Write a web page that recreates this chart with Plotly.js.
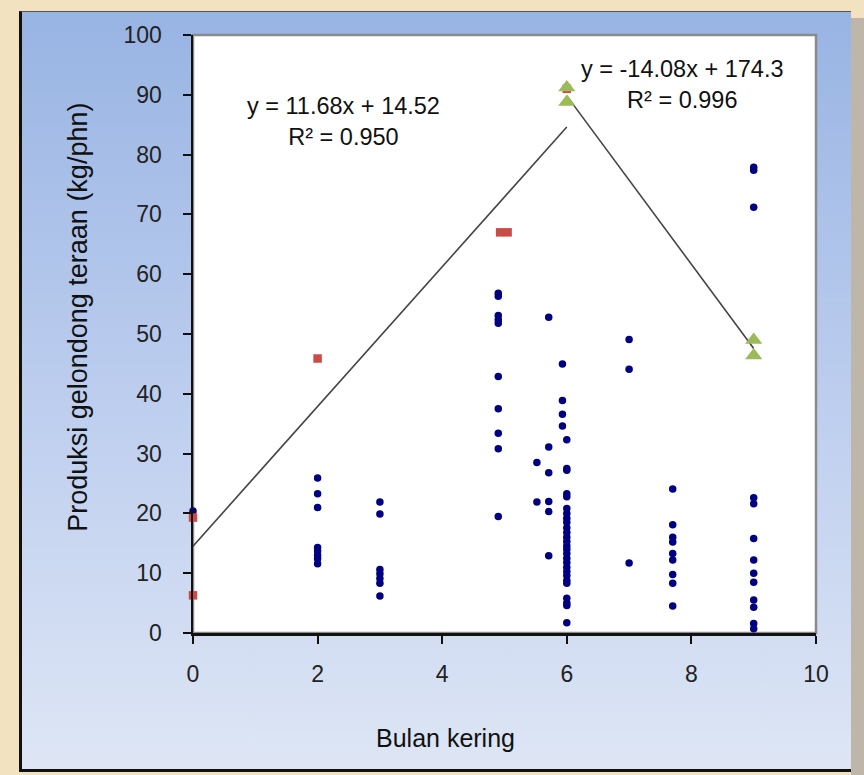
<!DOCTYPE html>
<html>
<head>
<meta charset="utf-8">
<script src="https://cdn.plot.ly/plotly-3.0.1.min.js"></script>
<style>
  html, body { margin: 0; padding: 0; width: 864px; height: 775px; overflow: hidden; background: #F2E2C0; }
  #panel { position: absolute; left: 19px; top: 11px; width: 829px; height: 757px;
           background: linear-gradient(to bottom, #98B4E3 0%, #BCCDEE 50%, #DEE6F5 100%);
           border-top: 1px solid #555; border-left: 3px solid #111; border-bottom: 3px solid #111; }
  #shadow { position: absolute; left: 851px; top: 18px; width: 13px; height: 757px; background: #BEB6A8; }
  #chart { position: absolute; left: 0; top: 0; width: 864px; height: 775px; }
</style>
</head>
<body>
<div id="panel"></div>
<div id="shadow"></div>
<div id="chart"></div>
<script>
// Blue dots (all observations)
const blueX = [0,
  2,2,2,2,2,2,2,2,
  3,3,3,3,3,3,3,
  4.9,4.9,4.9,4.9,4.9,4.9,4.9,4.9,4.9,4.9,
  5.52,5.52,
  5.71,5.71,5.71,5.71,5.71,5.71,
  5.93,5.93,5.93,5.93,
  6,6,6,6,6,6,6,6,6,6,6,6,6,6,6,6,6,6,6,6,6,6,6,6,6,6,6,
  7,7,7,
  7.7,7.7,7.7,7.7,7.7,7.7,7.7,7.7,7.7,
  9,9,9,9,9,9,9,9,9,9,9,9,9];
const blueY = [20.4,
  25.9,23.3,21.0,14.3,13.7,13.0,12.4,11.6,
  21.9,19.9,10.6,9.9,9.1,8.3,6.2,
  56.8,56.3,53.1,52.4,51.8,42.9,37.5,33.4,30.8,19.5,
  28.5,21.9,
  52.8,31.1,26.8,22.0,20.3,12.9,
  45.0,38.9,36.6,34.6,
  32.3,27.5,27.2,23.3,22.8,20.8,20.0,19.2,18.5,17.6,16.8,16.0,15.3,14.6,14.0,13.3,12.5,11.8,11.0,10.3,9.6,8.8,8.3,5.8,5.0,4.6,1.7,
  49.1,44.1,11.7,
  24.1,18.1,16.0,15.2,13.3,12.2,9.8,8.3,4.5,
  77.9,77.4,71.2,22.6,21.6,15.8,12.2,10.0,8.5,5.5,4.3,1.6,0.7];

// Red squares (rising series)
const redX = [0, 0, 2, 4.93, 5.05, 6];
const redY = [19.3, 6.3, 45.9, 67.0, 67.0, 91.0];

// Green triangles (falling series)
const greenX = [6, 6, 9, 9];
const greenY = [91.2, 88.8, 49.0, 46.4];

// Trendline coefficients
const trend1 = {slope: 11.68, intercept: 14.52, label: "y = 11.68x + 14.52", r2: "R² = 0.950"};
const trend2 = {slope: -14.08, intercept: 174.3, label: "y = -14.08x + 174.3", r2: "R² = 0.996"};

// Axis texts
const xTitle = "Bulan kering";
const yTitle = "Produksi gelondong teraan (kg/phn)";

function lineFrom(t, xs) {
  const x0 = Math.min(...xs), x1 = Math.max(...xs);
  return {x: [x0, x1], y: [t.slope * x0 + t.intercept, t.slope * x1 + t.intercept]};
}
const l1 = lineFrom(trend1, redX);
const l2 = lineFrom(trend2, greenX);

const FONT = '"Liberation Sans", Arial, sans-serif';

const data = [
  {x: blueX, y: blueY, type: 'scatter', mode: 'markers', cliponaxis: false,
   marker: {color: '#000080', size: 7.5, symbol: 'circle'}},
  {x: redX, y: redY, type: 'scatter', mode: 'markers', cliponaxis: false,
   marker: {color: '#CC4B47', size: 8.5, symbol: 'square'}},
  {x: l1.x, y: l1.y, type: 'scatter', mode: 'lines', line: {color: '#444444', width: 1.6}},
  {x: l2.x, y: l2.y, type: 'scatter', mode: 'lines', line: {color: '#444444', width: 1.6}},
  {x: greenX, y: greenY, type: 'scatter', mode: 'markers', cliponaxis: false,
   marker: {color: '#9BBB59', size: 15, symbol: 'triangle-up'}}
];

const layout = {
  width: 864, height: 775,
  margin: {l: 193, r: 48, t: 35, b: 142, pad: 0},
  paper_bgcolor: 'rgba(0,0,0,0)',
  plot_bgcolor: '#FFFFFF',
  showlegend: false,
  font: {family: FONT, color: '#1a1a1a'},
  xaxis: {range: [0, 10], dtick: 2, tick0: 0, showgrid: false, zeroline: false,
          showline: true, linecolor: '#111', linewidth: 2.5,
          ticks: 'outside', ticklen: 8, tickwidth: 2, tickcolor: '#111',
          ticklabelstandoff: 11,
          tickfont: {size: 23, family: FONT, color: '#222'}},
  yaxis: {range: [0, 100], dtick: 10, tick0: 0, showgrid: false, zeroline: false,
          showline: true, linecolor: '#111', linewidth: 2.5,
          ticks: 'outside', ticklen: 8, tickwidth: 2, tickcolor: '#111',
          ticklabelstandoff: 16,
          tickfont: {size: 23, family: FONT, color: '#222'}},
  shapes: [
    {type: 'rect', xref: 'paper', yref: 'paper', x0: 0, x1: 1, y0: 0, y1: 1,
     line: {color: '#8a8a8a', width: 2.5}, layer: 'below'}
  ],
  annotations: [
    {x: 2.42, y: 85.5, xref: 'x', yref: 'y', text: trend1.label + '<br>' + trend1.r2, showarrow: false,
     align: 'center', borderpad: 0,
     font: {size: 23.5, family: FONT, color: '#111'}, xanchor: 'center', yanchor: 'middle'},
    {x: 7.86, y: 91.8, xref: 'x', yref: 'y', text: trend2.label + '<br>' + trend2.r2, showarrow: false,
     align: 'center', borderpad: 0,
     font: {size: 23.5, family: FONT, color: '#111'}, xanchor: 'center', yanchor: 'middle'},
    {x: 0.4045, y: -0.1756, xref: 'paper', yref: 'paper', text: xTitle, showarrow: false,
     font: {size: 25, family: FONT, color: '#111'}, xanchor: 'center', yanchor: 'middle'},
    {x: 0, y: 0.527, xref: 'paper', yref: 'paper', xshift: -115, text: yTitle, showarrow: false,
     textangle: -90, font: {size: 27, family: FONT, color: '#111'}, xanchor: 'center', yanchor: 'middle'}
  ]
};

Plotly.newPlot('chart', data, layout, {displayModeBar: false, staticPlot: true});
</script>
</body>
</html>
